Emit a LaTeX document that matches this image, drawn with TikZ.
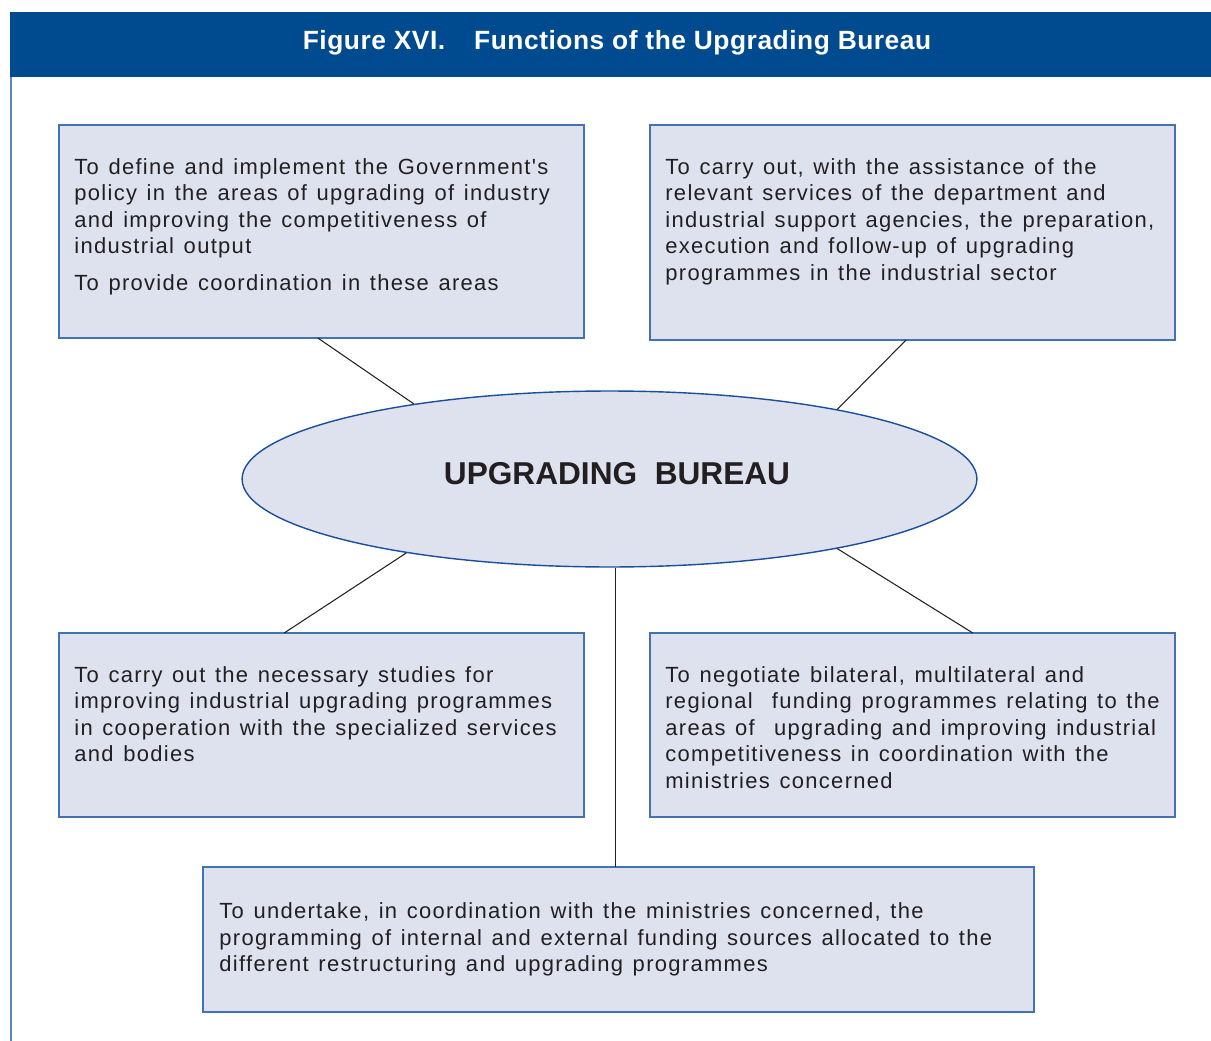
\documentclass[tikz,border=0pt]{standalone}
\usepackage{fontspec}
\setmainfont{Liberation Sans}
\newfontfamily\bodyfont{Liberation Sans}[LetterSpace=6,WordSpace=1.3]
\newfontfamily\headfont{Liberation Sans}[LetterSpace=2]
\usetikzlibrary{shapes.geometric,calc}

\definecolor{headblue}{HTML}{004B8F}
\definecolor{boxfill}{HTML}{DEE2EF}
\definecolor{boxline}{HTML}{4372B0}
\definecolor{ovalline}{HTML}{1A4F9C}
\definecolor{framel}{HTML}{5B86BD}
\definecolor{ink}{HTML}{231F20}

\begin{document}
\begin{tikzpicture}[x=0.02cm,y=-0.02cm,
  box/.style={draw=boxline,fill=boxfill,line width=0.8pt,anchor=north west,inner sep=0,outer sep=0},
  txt/.style={anchor=north west,inner sep=0,align=left,text=ink,font=\bodyfont\fontsize{12.5}{15.1}\selectfont},
  link/.style={draw=ink,line width=0.6pt}]
  \useasboundingbox (0,0) rectangle (1211,1041);

  % title band and frame
  \fill[headblue] (10,12) rectangle (1211,77);
  \node[text=white,font=\headfont\bfseries\fontsize{15}{18}\selectfont] (head) at (617,43)
    {Figure XVI.\hspace{1.1em}Functions of the Upgrading Bureau};
  \draw[framel,line width=1pt] (11,77) -- (11,1041);

  % boxes
  \node[box,minimum width=10.5cm,minimum height=4.26cm] (tl) at (59,125) {};
  \node[box,minimum width=10.5cm,minimum height=4.3cm] (tr) at (650,125) {};
  \node[box,minimum width=10.5cm,minimum height=3.68cm] (bl) at (59,633) {};
  \node[box,minimum width=10.5cm,minimum height=3.68cm] (br) at (650,633) {};
  \node[box,minimum width=16.62cm,minimum height=2.9cm] (bt) at (203,867) {};

  \node[txt] (tltext) at ($(tl.north west)+(15,33)$)
    {To define and implement the Government's\\policy in the areas of upgrading of industry\\and improving the competitiveness of\\industrial output\\[6pt]To provide coordination in these areas};
  \node[txt] (trtext) at ($(tr.north west)+(15,33)$)
    {To carry out, with the assistance of the\\relevant services of the department and\\industrial support agencies, the preparation,\\execution and follow-up of upgrading\\programmes in the industrial sector};
  \node[txt] (bltext) at ($(bl.north west)+(15,33)$)
    {To carry out the necessary studies for\\improving industrial upgrading programmes\\in cooperation with the specialized services\\and bodies};
  \node[txt] (brtext) at ($(br.north west)+(15,33)$)
    {To negotiate bilateral, multilateral and\\regional\ \ funding programmes relating to the\\areas of\ \ upgrading and improving industrial\\competitiveness in coordination with the\\ministries concerned};
  \node[txt] (bttext) at ($(bt.north west)+(16,35.5)$)
    {To undertake, in coordination with the ministries concerned, the\\programming of internal and external funding sources allocated to the\\different restructuring and upgrading programmes};

  % bureau
  \node[ellipse,draw=ovalline,fill=boxfill,line width=0.8pt,inner sep=0,
    minimum width=14.7cm,minimum height=3.52cm] (ub) at (609.5,479) {};
  \node[text=ink,font=\bfseries\fontsize{18}{21}\selectfont] (ubtext) at (617,474) {UPGRADING\ \ BUREAU};

  % links
  \draw[link] ($(tl.south west)!0.493!(tl.south east)$) -- (ub.159.5);
  \draw[link] ($(tr.south west)!0.488!(tr.south east)$) -- (ub.17.3);
  \draw[link] ($(bl.north west)!0.429!(bl.north east)$) -- (ub.200.5);
  \draw[link] ($(br.north west)!0.615!(br.north east)$) -- (ub.343.6);
  \draw[link] ($(ub.south -| bt.north)+(-2.5,0)$) -- ($(bt.north)+(-2.5,0)$);
\end{tikzpicture}
\end{document}
